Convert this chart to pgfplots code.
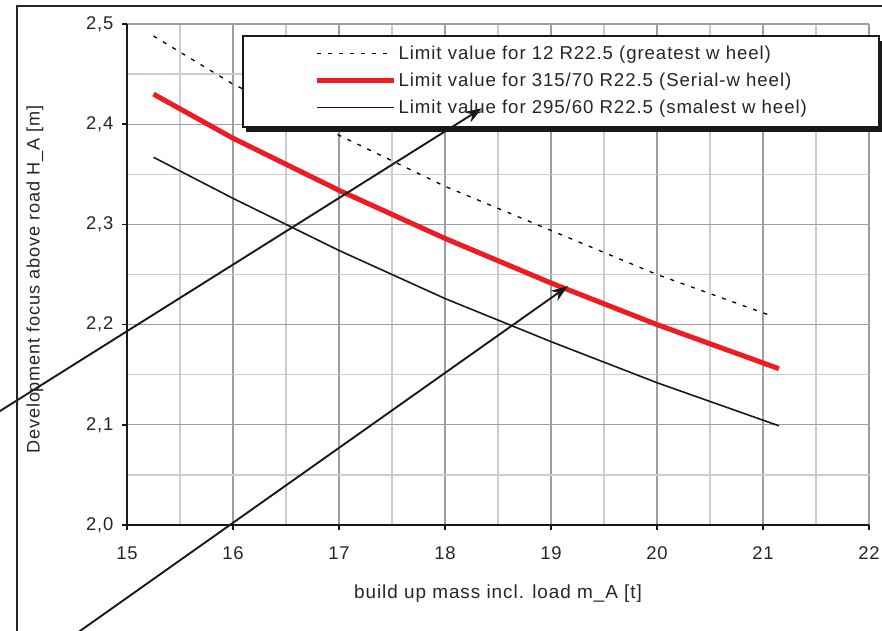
\documentclass[border=0pt]{standalone}
\usepackage{fontspec}
\setmainfont[LetterSpace=5]{Liberation Sans}
\usepackage{pgfplots}
\pgfplotsset{compat=1.18}
\usetikzlibrary{arrows.meta}
\definecolor{limred}{RGB}{237,28,36}
\begin{document}
\begin{tikzpicture}
\begin{axis}[
    scale only axis, width=742bp, height=501bp,
    xmin=15, xmax=22, ymin=2, ymax=2.5,
    xtick={15,16,17,18,19,20,21,22},
    ytick={2,2.1,2.2,2.3,2.4,2.5},
    minor xtick={15.5,16.5,17.5,18.5,19.5,20.5,21.5},
    minor ytick={2.05,2.15,2.25,2.35,2.45},
    grid=both,
    major grid style={line width=1.3bp, black!38},
    minor grid style={line width=1.3bp, black!20},
    axis x line*=bottom, axis y line*=left,
    axis line style={line width=1.6bp, black!90},
    tick align=outside, major tick length=5bp, minor tick length=0bp,
    major tick style={line width=1.4bp, black!90},
    /pgf/number format/assume math mode=true,
    ticklabel style={font=\fontsize{18.5}{20}\selectfont, text=black!85},
    x tick label style={yshift=-13bp},
    y tick label style={xshift=-5bp, /pgf/number format/.cd, fixed, fixed zerofill, precision=1, use comma},
    every axis x label/.style={at={(axis description cs:0.5,0)}, anchor=center, yshift=-69bp,
        font=\fontsize{19}{21}\selectfont},
    every axis y label/.style={at={(axis description cs:0,0.5)}, xshift=-92bp, yshift=-5bp, rotate=90, anchor=center,
        font=\fontsize{18.2}{21}\selectfont},
    label style={text=black!85},
    xlabel={build up mass incl. load m\_A [t]},
    ylabel={Development focus above road H\_A [m]},
    clip=false,
    legend image code/.code={\draw[#1] (0bp,0bp) -- (77bp,0bp);},
    legend style={draw=none, fill=none, at={(axis cs:16.74,2.482)}, anchor=north west,
        font=\fontsize{18.7}{20}\selectfont, text=black!85, row sep=8bp,
        cells={anchor=west}},
]
% greatest wheel
\addplot[black, line width=1.3bp, dash pattern=on 4bp off 7bp] coordinates {
    (15.25,2.488) (16,2.440) (17,2.389) (18,2.338) (19,2.294) (20,2.250) (21.1,2.208)
};
% serial wheel
\addplot[limred, line width=5bp] coordinates {
    (15.25,2.430) (16,2.386) (17,2.334) (18,2.286) (19,2.2415) (20,2.200) (21.15,2.156)
};
% smallest wheel
\addplot[black!90, line width=1.6bp] coordinates {
    (15.25,2.367) (16,2.326) (17,2.274) (18,2.226) (19,2.183) (20,2.142) (21.15,2.099)
};
\legend{Limit value for 12 R22.5 (greatest w heel),
        Limit value for 315/70 R22.5 (Serial-w heel),
        Limit value for 295/60 R22.5 (smalest w heel)}
% legend frame with shadow
\fill[black!90] ([shift={(3bp,-5bp)}]axis cs:16.094,2.488) rectangle ([shift={(3bp,-5bp)}]axis cs:22.094,2.3972);
\draw[line width=1.6bp, black!90, fill=white] (axis cs:16.094,2.488) rectangle (axis cs:22.094,2.3972);
% arrows
\draw[line width=1.9bp, black!90, -{Stealth[length=17bp,width=12bp]}] (axis cs:13.613,2.1012) -- (axis cs:18.349,2.416);
\draw[line width=1.9bp, black!90, -{Stealth[length=17bp,width=12bp]}] (axis cs:14.302,1.8752) -- (axis cs:19.16,2.2385);
\end{axis}
\draw[line width=2bp, black!85] (-110bp,-130bp) -- (-110bp,519bp) -- (900bp,519bp);
\pgfresetboundingbox
\path[use as bounding box] (-127bp,-106bp) rectangle (755bp,525bp);
\end{tikzpicture}
\end{document}
